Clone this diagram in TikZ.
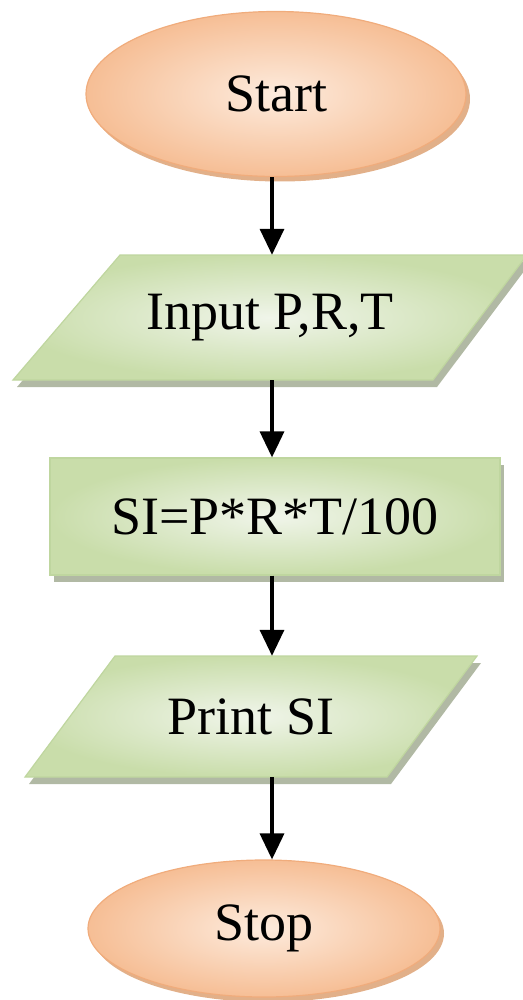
\documentclass[tikz,border=0pt]{standalone}
\usepackage{fontspec}
\setmainfont{Liberation Serif}
\usetikzlibrary{shapes.geometric,arrows.meta,shadows}
\definecolor{peachIn}{HTML}{FDEBDD}
\definecolor{peachOut}{HTML}{F6BE95}
\definecolor{peachLine}{HTML}{F0AC7C}
\definecolor{peachShadow}{HTML}{DB9C6C}
\definecolor{greenIn}{HTML}{F0F5EA}
\definecolor{greenOut}{HTML}{C9DDAA}
\definecolor{greenLine}{HTML}{BFD69F}
\definecolor{greenShadow}{HTML}{A9B19A}
\tikzset{
  lbl/.style={font=\fontsize{54}{62}\selectfont, text=black},
  term/.style={lbl, ellipse, inner sep=0pt, draw=peachLine, line width=1.2pt,
    inner color=peachIn, outer color=peachOut,
    drop shadow={shadow xshift=4pt, shadow yshift=-5pt, fill=peachShadow, opacity=0.8}},
  greenfill/.style={draw=greenLine, line width=1.2pt, inner color=greenIn, outer color=greenOut,
    drop shadow={shadow xshift=4pt, shadow yshift=-7pt, fill=greenShadow, opacity=0.9}},
  slot/.style={lbl, rectangle, inner sep=0pt, draw=none},
  proc/.style={lbl, rectangle, inner sep=0pt, greenfill},
  arr/.style={line width=3.4pt, -{Triangle[width=24pt,length=26pt]}}
}
\begin{document}
\begin{tikzpicture}[x=1pt,y=-1pt]
\useasboundingbox (0,0) rectangle (522,1000);
% parallelogram shapes
\path[greenfill] (120,255) -- (527,255) -- (433,380) -- (13,380) -- cycle;
\path[greenfill] (115,656) -- (477,656) -- (387,777) -- (25,777) -- cycle;
% nodes
\node[term, minimum width=380pt, minimum height=165pt] (start) at (276,94) {Start};
\node[slot, minimum width=300pt, minimum height=125pt] (input) at (270,317.5) {Input P,R,T};
\node[proc, minimum width=450pt, minimum height=117pt] (si) at (275,516.5) {SI=P*R*T/100};
\node[slot, minimum width=300pt, minimum height=121pt] (print) at (251,716.5) {Print SI};
\node[term, minimum width=352pt, minimum height=137pt] (stop) at (264,928.5) {Stop};
\coordinate (ax) at (272,0);
\draw[arr] (start.south -| ax) -- (input.north -| ax);
\draw[arr] (input.south -| ax) -- (si.north -| ax);
\draw[arr] (si.south -| ax) -- (print.north -| ax);
\draw[arr] (print.south -| ax) -- (stop.north -| ax);
\end{tikzpicture}
\end{document}
